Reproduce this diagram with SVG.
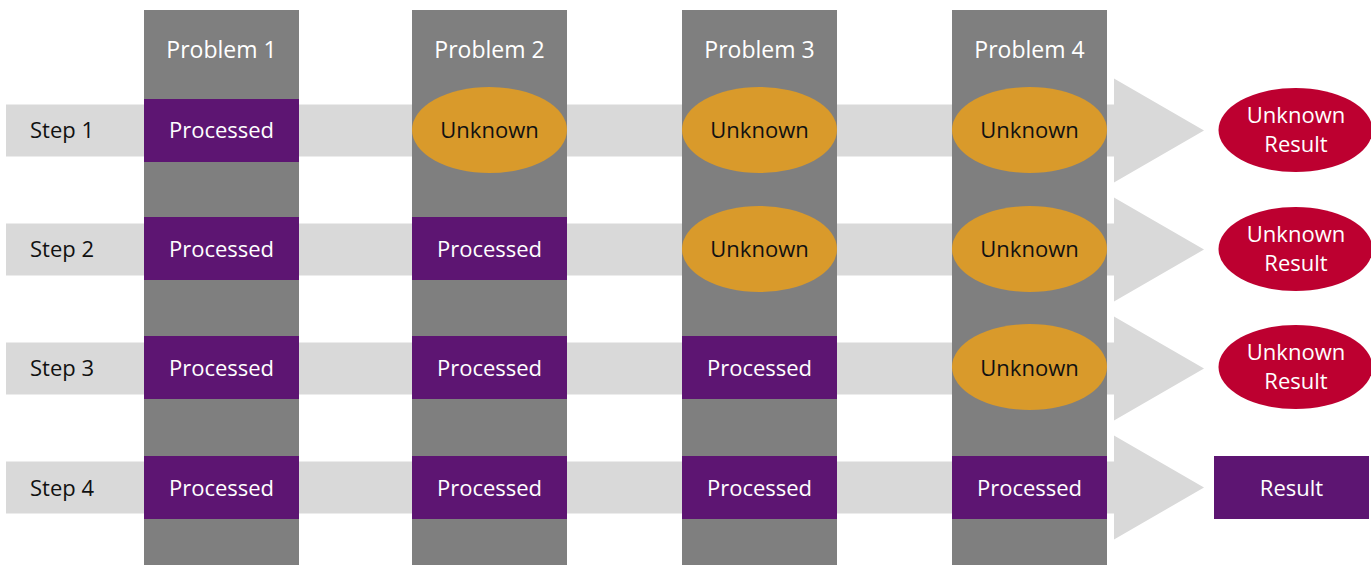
<svg xmlns="http://www.w3.org/2000/svg" width="1371" height="565" viewBox="0 0 1371 565">
  <style>
    text { font-family: "Open Sans", "Noto Sans", sans-serif; font-size: 22px; text-anchor: middle; }
    .col { fill: #7f7f7f; }
    .band { fill: #d9d9d9; }
    .done rect { fill: #5d1572; }
    .done text, .col-label, .res text { fill: #ffffff; }
    .col-label { font-size: 23px; }
    .unk ellipse { fill: #d99a2b; }
    .unk text, .step { fill: #111111; }
    .res ellipse { fill: #bd0030; }
    .res rect { fill: #5d1572; }
    .step { text-anchor: start; }
  </style>

  <!-- step bands with arrowheads -->
  <g id="connectors">
    <path class="band" d="M6 104.5H1114V78.5L1204 130.5L1114 182.5V156.5H6Z"/>
    <path class="band" d="M6 223.5H1114V197.5L1204 249.5L1114 301.5V275.5H6Z"/>
    <path class="band" d="M6 342.5H1114V316.5L1204 368.5L1114 420.5V394.5H6Z"/>
    <path class="band" d="M6 461.5H1114V435.5L1204 487.5L1114 539.5V513.5H6Z"/>
  </g>

  <!-- problem columns -->
  <g id="problem-1"><rect class="col" x="144" y="10" width="155" height="555"/><text class="col-label" x="221.5" y="58">Problem 1</text></g>
  <g id="problem-2"><rect class="col" x="412" y="10" width="155" height="555"/><text class="col-label" x="489.5" y="58">Problem 2</text></g>
  <g id="problem-3"><rect class="col" x="682" y="10" width="155" height="555"/><text class="col-label" x="759.5" y="58">Problem 3</text></g>
  <g id="problem-4"><rect class="col" x="952" y="10" width="155" height="555"/><text class="col-label" x="1029.5" y="58">Problem 4</text></g>

  <!-- step labels -->
  <g id="step-1"><text class="step" x="30" y="138">Step 1</text></g>
  <g id="step-2"><text class="step" x="30" y="257">Step 2</text></g>
  <g id="step-3"><text class="step" x="30" y="376">Step 3</text></g>
  <g id="step-4"><text class="step" x="30" y="496">Step 4</text></g>

  <!-- row 1 -->
  <g id="r1-p1" class="done"><rect x="144" y="99" width="155" height="63"/><text x="221.5" y="138">Processed</text></g>
  <g id="r1-p2" class="unk"><ellipse cx="489.5" cy="130" rx="77.5" ry="43"/><text x="489.5" y="138">Unknown</text></g>
  <g id="r1-p3" class="unk"><ellipse cx="759.5" cy="130" rx="77.5" ry="43"/><text x="759.5" y="138">Unknown</text></g>
  <g id="r1-p4" class="unk"><ellipse cx="1029.5" cy="130" rx="77.5" ry="43"/><text x="1029.5" y="138">Unknown</text></g>
  <g id="r1-result" class="res"><ellipse cx="1295.5" cy="130" rx="77" ry="42"/><text x="1296" y="123">Unknown</text><text x="1296" y="152">Result</text></g>

  <!-- row 2 -->
  <g id="r2-p1" class="done"><rect x="144" y="217" width="155" height="63"/><text x="221.5" y="257">Processed</text></g>
  <g id="r2-p2" class="done"><rect x="412" y="217" width="155" height="63"/><text x="489.5" y="257">Processed</text></g>
  <g id="r2-p3" class="unk"><ellipse cx="759.5" cy="249" rx="77.5" ry="43"/><text x="759.5" y="257">Unknown</text></g>
  <g id="r2-p4" class="unk"><ellipse cx="1029.5" cy="249" rx="77.5" ry="43"/><text x="1029.5" y="257">Unknown</text></g>
  <g id="r2-result" class="res"><ellipse cx="1295.5" cy="249" rx="77" ry="42"/><text x="1296" y="242">Unknown</text><text x="1296" y="271">Result</text></g>

  <!-- row 3 -->
  <g id="r3-p1" class="done"><rect x="144" y="336" width="155" height="63"/><text x="221.5" y="376">Processed</text></g>
  <g id="r3-p2" class="done"><rect x="412" y="336" width="155" height="63"/><text x="489.5" y="376">Processed</text></g>
  <g id="r3-p3" class="done"><rect x="682" y="336" width="155" height="63"/><text x="759.5" y="376">Processed</text></g>
  <g id="r3-p4" class="unk"><ellipse cx="1029.5" cy="367" rx="77.5" ry="43"/><text x="1029.5" y="376">Unknown</text></g>
  <g id="r3-result" class="res"><ellipse cx="1295.5" cy="367" rx="77" ry="42"/><text x="1296" y="360">Unknown</text><text x="1296" y="389">Result</text></g>

  <!-- row 4 -->
  <g id="r4-p1" class="done"><rect x="144" y="456" width="155" height="63"/><text x="221.5" y="496">Processed</text></g>
  <g id="r4-p2" class="done"><rect x="412" y="456" width="155" height="63"/><text x="489.5" y="496">Processed</text></g>
  <g id="r4-p3" class="done"><rect x="682" y="456" width="155" height="63"/><text x="759.5" y="496">Processed</text></g>
  <g id="r4-p4" class="done"><rect x="952" y="456" width="155" height="63"/><text x="1029.5" y="496">Processed</text></g>
  <g id="r4-result" class="res"><rect x="1214" y="456" width="155" height="63"/><text x="1291.5" y="496">Result</text></g>
</svg>
